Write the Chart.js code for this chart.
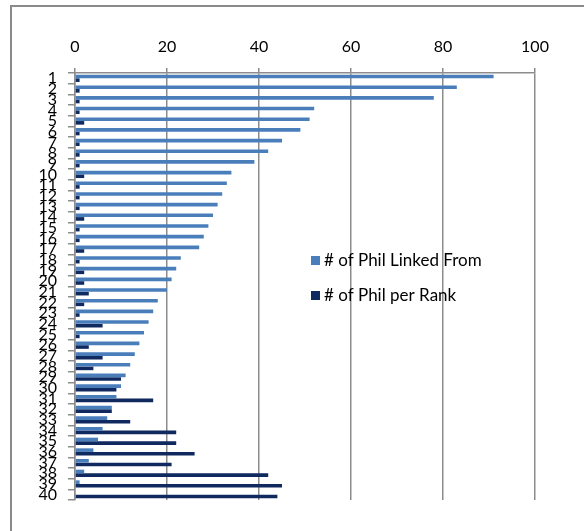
<!DOCTYPE html>
<html>
<head>
<meta charset="utf-8">
<script src="https://cdn.jsdelivr.net/npm/chart.js@4.4.0/dist/chart.umd.min.js"></script>
<style>
  html, body { margin: 0; padding: 0; background: #fff; overflow: hidden; }
  #wrap { position: relative; width: 584px; height: 531px; }
  #frame { position: absolute; left: 10px; top: 5px; width: 700px; height: 700px;
           border-left: 2px solid #8a8a8a; border-top: 2px solid #8a8a8a; pointer-events: none; }
</style>
</head>
<body>
<div id="wrap">
  <canvas id="rankChart" width="584" height="531"></canvas>
  <div id="frame"></div>
</div>
<script>
// categorii (rangul) si valorile
const ranks = [];
for (let i = 1; i <= 40; i++) ranks.push(String(i));

const linkedFrom = [91, 83, 78, 52, 51, 49, 45, 42, 39, 34,
                    33, 32, 31, 30, 29, 28, 27, 23, 22, 21,
                    20, 18, 17, 16, 15, 14, 13, 12, 11, 10,
                    9, 8, 7, 6, 5, 4, 3, 2, 1, 0];

const perRank = [1, 1, 1, 1, 2, 1, 1, 1, 1, 2,
                 1, 1, 1, 2, 1, 1, 2, 1, 2, 2,
                 3, 2, 1, 6, 1, 3, 6, 4, 10, 9,
                 17, 8, 12, 22, 22, 26, 21, 42, 45, 44];

const xTicks = [0, 20, 40, 60, 80, 100];

const gridGray = '#8c8c8c';

// legenda desenata peste zona graficului, ca in original
const overlayLegend = {
    id: 'overlayLegend',
    afterDraw(chart) {
        const ctx = chart.ctx;
        const rows = [260, 295];
        ctx.save();
        ctx.font = '17px Lato, "Open Sans", sans-serif';
        ctx.textBaseline = 'middle';
        chart.data.datasets.forEach((ds, i) => {
            ctx.fillStyle = ds.backgroundColor;
            ctx.fillRect(311, rows[i] - 4, 9, 9);
            ctx.fillStyle = '#000';
            ctx.fillText(ds.label, 324, rows[i] + 1);
        });
        ctx.restore();
    }
};

const ctxRank = document.getElementById('rankChart').getContext('2d');

new Chart(ctxRank, {
    type: 'bar',
    data: {
        labels: ranks,
        datasets: [
            {
                label: '# of Phil Linked From',
                data: linkedFrom,
                backgroundColor: '#4a7ebb',
                categoryPercentage: 0.68,
                barPercentage: 1.0
            },
            {
                label: '# of Phil per Rank',
                data: perRank,
                backgroundColor: '#10295e',
                categoryPercentage: 0.68,
                barPercentage: 1.0
            }
        ]
    },
    options: {
        indexAxis: 'y',
        responsive: false,
        animation: false,
        layout: {
            padding: { left: 10, top: 6, right: 49, bottom: 31 }
        },
        plugins: {
            legend: { display: false },
            tooltip: { enabled: false }
        },
        scales: {
            x: {
                position: 'top',
                min: 0,
                max: 100,
                afterBuildTicks(scale) {
                    scale.ticks = xTicks.map(v => ({ value: v }));
                },
                afterFit(scale) { scale.height = 67; },
                grid: {
                    color: gridGray,
                    lineWidth: 1.5,
                    tickLength: 5,
                    drawTicks: true
                },
                border: { color: gridGray, width: 1.5 },
                ticks: {
                    color: '#000',
                    padding: 12,
                    font: { family: 'Lato, "Open Sans", sans-serif', size: 16 }
                }
            },
            y: {
                afterFit(scale) { scale.width = 65; },
                grid: {
                    offset: true,
                    drawOnChartArea: false,
                    color: gridGray,
                    lineWidth: 1.5,
                    tickLength: 7
                },
                border: { color: gridGray, width: 1.5 },
                ticks: {
                    autoSkip: false,
                    color: '#000',
                    padding: 11,
                    font: { family: 'Lato, "Open Sans", sans-serif', size: 16 }
                }
            }
        }
    },
    plugins: [overlayLegend]
});
</script>
</body>
</html>
